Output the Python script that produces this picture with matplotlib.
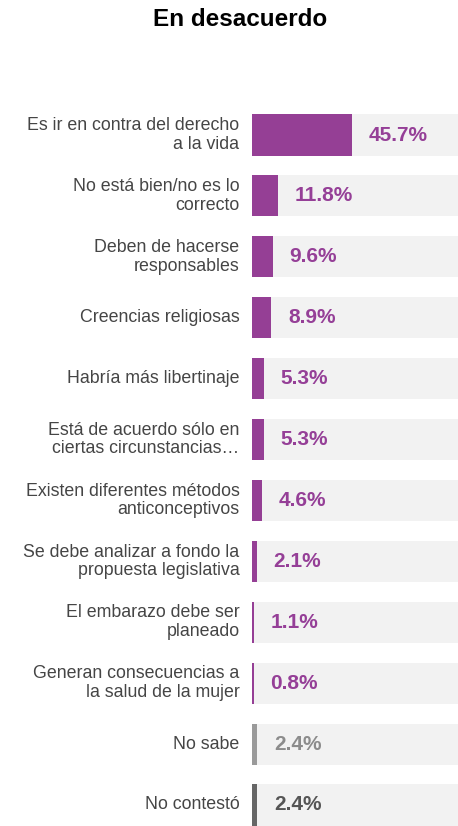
import matplotlib
matplotlib.use("Agg")
import matplotlib.pyplot as plt

categories = [
    "Es ir en contra del derecho\na la vida",
    "No está bien/no es lo\ncorrecto",
    "Deben de hacerse\nresponsables",
    "Creencias religiosas",
    "Habría más libertinaje",
    "Está de acuerdo sólo en\nciertas circunstancias…",
    "Existen diferentes métodos\nanticonceptivos",
    "Se debe analizar a fondo la\npropuesta legislativa",
    "El embarazo debe ser\nplaneado",
    "Generan consecuencias a\nla salud de la mujer",
    "No sabe",
    "No contestó",
]
values = [45.7, 11.8, 9.6, 8.9, 5.3, 5.3, 4.6, 2.1, 1.1, 0.8, 2.4, 2.4]
bar_colors = ["#953f95"] * 10 + ["#9a9a9a", "#666666"]
text_colors = ["#953f97"] * 10 + ["#8c8c8c", "#555555"]
title = "En desacuerdo"

plt.rcParams["font.family"] = ["Liberation Sans", "DejaVu Sans"]

fig = plt.figure(figsize=(4.58, 8.26), dpi=100)
ax = fig.add_axes([252 / 458, 0, 1 - 252 / 458, 1 - 114 / 826])

n = len(values)
ys = list(range(n))
ax.barh(ys, [100] * n, height=0.675, color="#f2f2f2", left=0, zorder=1)
ax.barh(ys, values, height=0.675, color=bar_colors, zorder=2)

ax.set_xlim(0, 94.1)
ax.set_ylim(n - 1 + 0.345, -0.345)
ax.axis("off")

for y, v, c, lab in zip(ys, values, text_colors, categories):
    ax.annotate(f"{v:.1f}%", xy=(v, y), xytext=(12, 0), textcoords="offset points",
                ha="left", va="center", fontsize=15, fontweight="bold", color=c, zorder=3)
    ax.annotate(lab, xy=(0, y), xytext=(-9, 0), textcoords="offset points",
                ha="right", va="center", fontsize=12.8, color="#454545",
                linespacing=1.13, annotation_clip=False)

fig.text(240 / 458, 1 - 19 / 826, title, ha="center", va="center",
         fontsize=17.5, fontweight="bold", color="black")

fig.savefig("out.png", dpi=100)
